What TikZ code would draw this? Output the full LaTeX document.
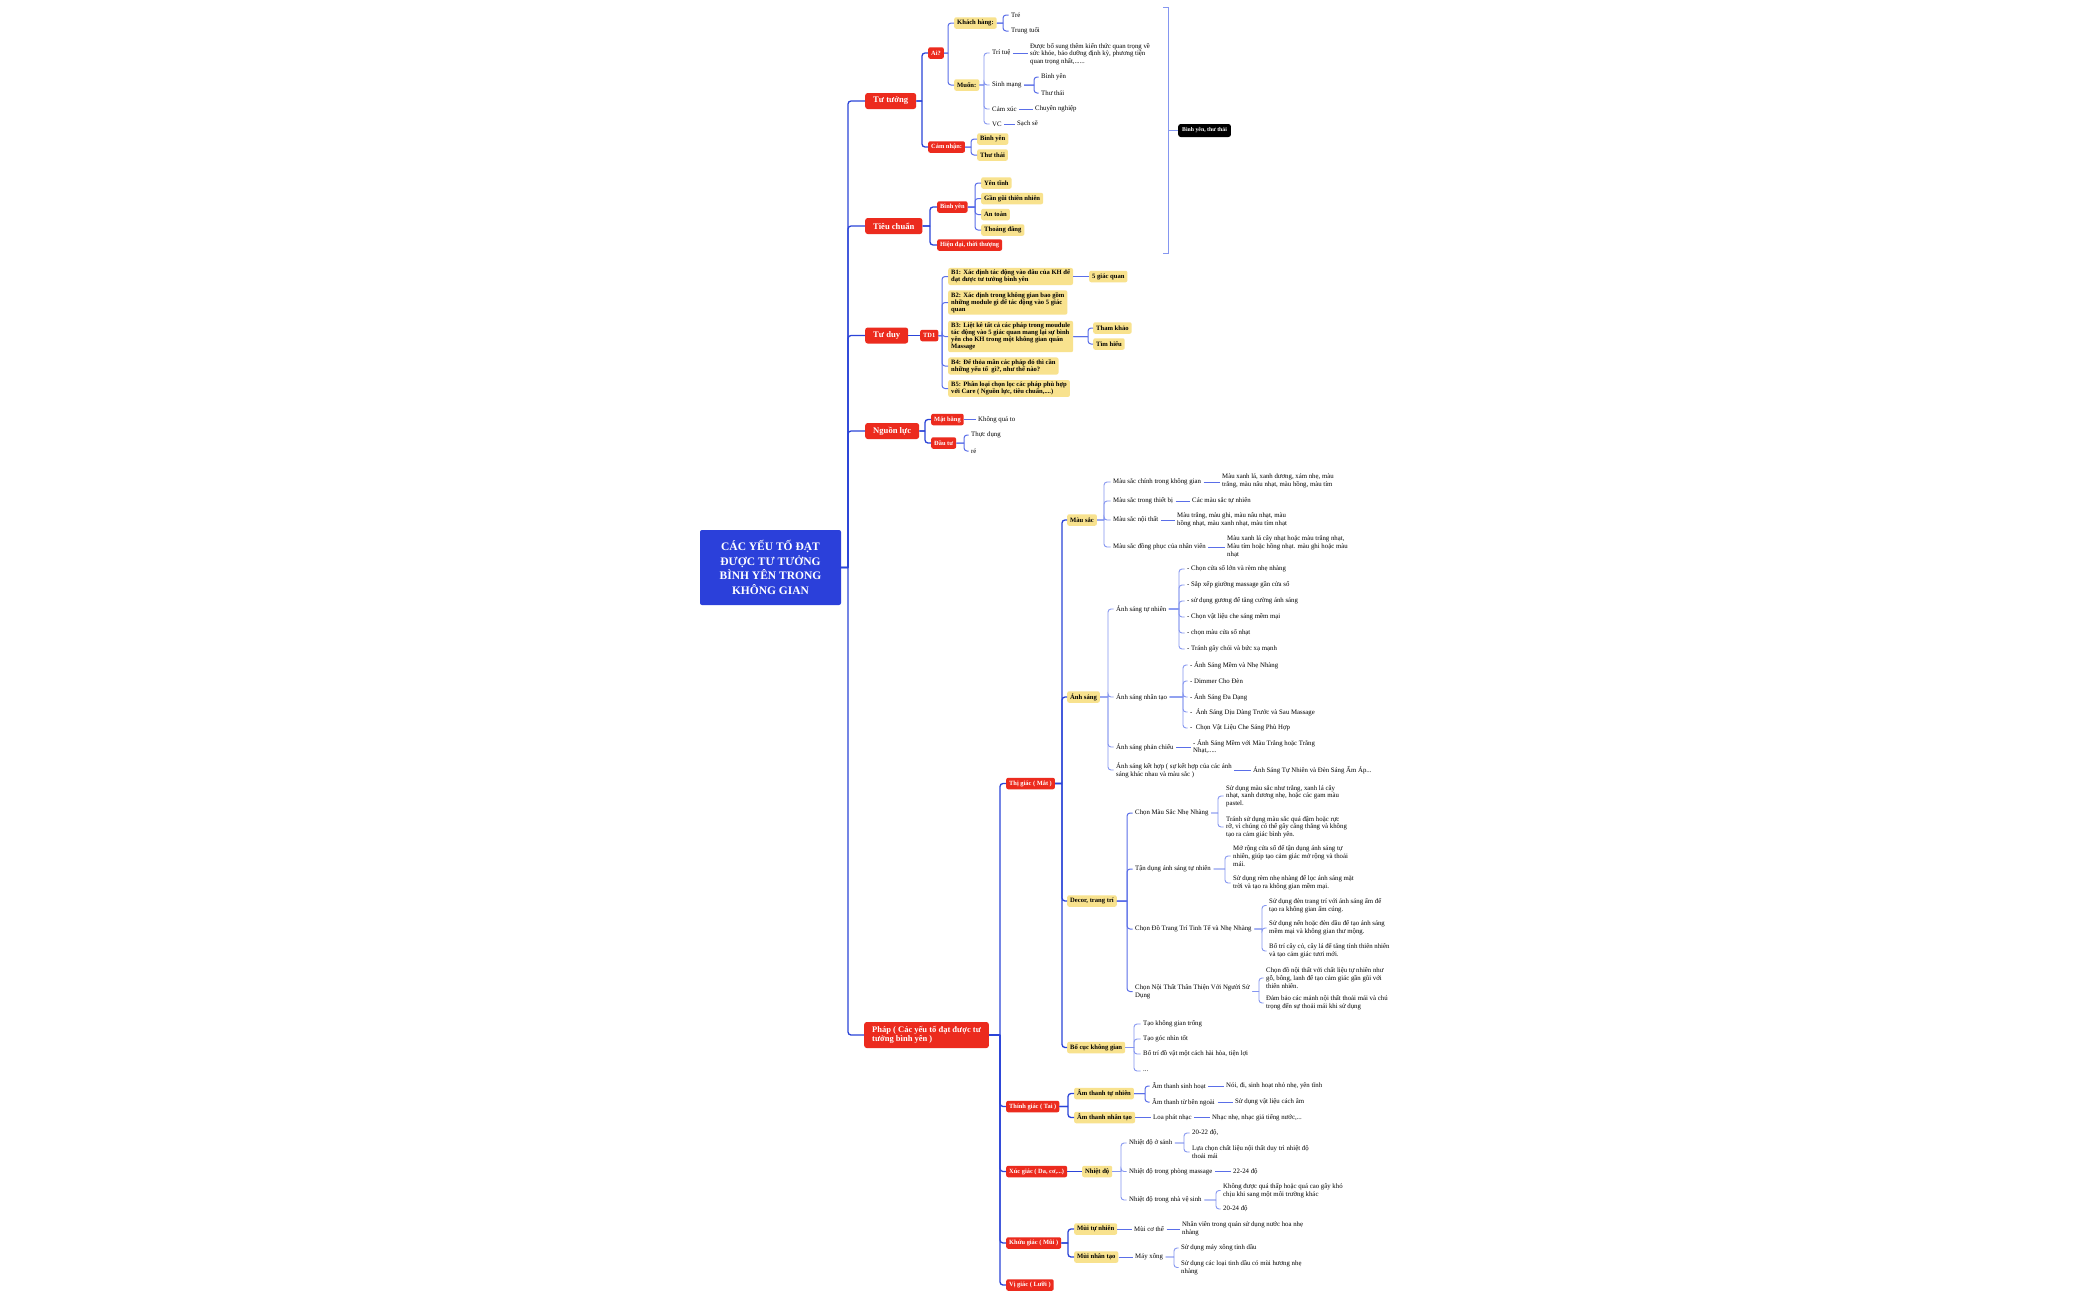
\documentclass[tikz,border=0pt]{standalone}
\usepackage{fontspec}
\setmainfont{Liberation Serif}
\usetikzlibrary{calc}
\definecolor{cred}{HTML}{EC2B1E}
\definecolor{cyel}{HTML}{F8E28E}
\definecolor{cblue}{HTML}{2B40DA}
\definecolor{lnA}{HTML}{2B44D8}
\definecolor{lnB}{HTML}{5A6EE8}
\definecolor{lnC}{HTML}{8596F0}
\begin{document}
\begin{tikzpicture}[x=1pt,y=-1pt,
 rootn/.style={fill=cblue,text=white,font=\fontsize{11.5}{14.5}\selectfont\bfseries,align=center,rounded corners=2pt,minimum width=141pt,minimum height=75pt,inner sep=2pt},
 mainn/.style={fill=cred,text=white,font=\fontsize{8.6}{10}\selectfont\bfseries,rounded corners=2.5pt,anchor=west,minimum height=16pt,inner xsep=8pt,inner ysep=2pt},
 redn/.style={fill=cred,text=white,font=\fontsize{6.4}{7.2}\selectfont\bfseries,rounded corners=2pt,anchor=west,minimum height=11.5pt,inner xsep=3pt,inner ysep=1.5pt},
 yel/.style={fill=cyel,text=black,font=\fontsize{6.6}{7.2}\selectfont\bfseries,rounded corners=2pt,anchor=west,minimum height=11.5pt,inner xsep=3pt,inner ysep=1.8pt,align=left},
 leaf/.style={font=\fontsize{6.8}{7.7}\selectfont,anchor=west,inner xsep=2.5pt,inner ysep=1pt,align=left,xshift=-2.5pt},
 blk/.style={fill=black,text=white,font=\fontsize{5.8}{7}\selectfont\bfseries,rounded corners=2.5pt,anchor=west,minimum height=13pt,inner xsep=4pt},
 l1/.style={draw=lnA,line width=1.3pt},
 l2/.style={draw=lnB,line width=1pt},
 l3/.style={draw=lnC,line width=0.9pt},
 jx/.style={to path={let \p1=(\tikztostart) in (\p1) -- (#1pt,\y1) (#1pt,\y1) [rounded corners=3pt] |- (\tikztotarget)}}
]
\fill[white] (0,0) rectangle (2100,1299);
\useasboundingbox (0,0) rectangle (2100,1299);

% root
\node[rootn] (root) at (770.5,567.5) {CÁC YẾU TỐ ĐẠT\\ĐƯỢC TƯ TƯỞNG\\BÌNH YÊN TRONG\\KHÔNG GIAN};

% main branches
\node[mainn] (tt) at (865,101) {Tư tưởng};
\node[mainn] (tc) at (865,226) {Tiêu chuẩn};
\node[mainn] (td) at (865,335.5) {Tư duy};
\node[mainn] (nl) at (865,431) {Nguồn lực};
\node[mainn,align=left,font=\fontsize{8.5}{9.5}\selectfont\bfseries,minimum height=26pt] (ph) at (864,1035) {Pháp ( Các yếu tố đạt được tư\\tưởng bình yên )};
\foreach \c in {tt,tc,td,nl,ph} \draw[l1] (root.east) to[jx=848] (\c.west);

% ---------- Tư tưởng
\node[redn] (ai) at (928,53) {Ai?};
\node[redn] (cn) at (928,147) {Cảm nhận:};
\foreach \c in {ai,cn} \draw[l1] (tt.east) to[jx=922] (\c.west);
\node[yel] (kh) at (954,23) {Khách hàng:};
\node[yel] (mu) at (954,85) {Muốn:};
\foreach \c in {kh,mu} \draw[l2] (ai.east) to[jx=948] (\c.west);
\node[leaf] (tre) at (1011,15) {Trẻ};
\node[leaf] (trt) at (1011,31) {Trung tuổi};
\foreach \c in {tre,trt} \draw[l2] (kh.east) to[jx=1003] (\c.west);
\node[leaf] (tri) at (992,53) {Trí tuệ};
\node[leaf] (sm) at (992,85) {Sinh mạng};
\node[leaf] (cx) at (992,109) {Cảm xúc};
\node[leaf] (vc) at (992,124) {VC};
\foreach \c in {tri,sm,cx,vc} \draw[l3] (mu.east) to[jx=984] (\c.west);
\node[leaf] (tri1) at (1030,54) {Được bổ sung thêm kiến thức quan trọng về\\sức khỏe, bảo dưỡng định kỳ, phương tiện\\quan trọng nhất,......};
\draw[l2] (tri.east) -- (tri.east -| tri1.west);
\node[leaf] (sm1) at (1041,77) {Bình yên};
\node[leaf] (sm2) at (1041,93) {Thư thái};
\foreach \c in {sm1,sm2} \draw[l2] (sm.east) to[jx=1034] (\c.west);
\node[leaf] (cx1) at (1035,109) {Chuyên nghiệp};
\draw[l2] (cx.east) -- (cx.east -| cx1.west);
\node[leaf] (vc1) at (1017,124) {Sạch sẽ};
\draw[l2] (vc.east) -- (vc.east -| vc1.west);
\node[yel] (cn1) at (977,139) {Bình yên};
\node[yel] (cn2) at (977,155) {Thư thái};
\foreach \c in {cn1,cn2} \draw[l2] (cn.east) to[jx=971] (\c.west);

% ---------- Tiêu chuẩn
\node[redn] (tby) at (937,207) {Bình yên};
\node[redn] (thd) at (937,245) {Hiện đại, thời thượng};
\foreach \c in {tby,thd} \draw[l1] (tc.east) to[jx=930] (\c.west);
\node[yel] (ty1) at (981,183) {Yên tĩnh};
\node[yel] (ty2) at (981,198.5) {Gần gũi thiên nhiên};
\node[yel] (ty3) at (981,214.5) {An toàn};
\node[yel] (ty4) at (981,230) {Thoáng đãng};
\foreach \c in {ty1,ty2,ty3,ty4} \draw[l2] (tby.east) to[jx=975] (\c.west);

% summary bracket
\node[blk] (sum) at (1178,130.5) {Bình yên, thư thái};
\draw[l3] (1163,7) -- (1168,7) -- (1168,253) -- (1163,253);
\draw[l3] (1168,130.5) -- (sum.west);

% ---------- Tư duy
\node[redn] (td1) at (920,335.5) {TD1};
\draw[l1] (td.east) -- (td.east -| td1.west);
\node[yel] (b1) at (948,276.5) {B1: Xác định tác động vào đâu của KH để\\đạt được tư tưởng bình yên};
\node[yel] (b2) at (948,302.5) {B2: Xác định trong không gian bao gồm\\những module gì để tác động vào 5 giác\\quan};
\node[yel] (b3) at (948,336.5) {B3: Liệt kê tất cả các pháp trong moudule\\tác động vào 5 giác quan mang lại sự bình\\yên cho KH trong một không gian quán\\Massage};
\node[yel] (b4) at (948,366) {B4: Để thỏa mãn các pháp đó thì cần\\những yếu tố \ gì?, như thế nào?};
\node[yel] (b5) at (948,388.5) {B5: Phân loại chọn lọc các pháp phù hợp\\với Care ( Nguồn lực, tiêu chuẩn,....)};
\foreach \c in {b1,b2,b3,b4,b5} \draw[l2] (td1.east) to[jx=942] (\c.west);
\node[yel] (b1a) at (1089,276.5) {5 giác quan};
\draw[l2] (b1.east) -- (b1.east -| b1a.west);
\node[yel] (b3a) at (1093,328) {Tham khảo};
\node[yel] (b3b) at (1093,344) {Tìm hiểu};
\foreach \c in {b3a,b3b} \draw[l2] (b3.east) to[jx=1088] (\c.west);

% ---------- Nguồn lực
\node[redn] (mb) at (931,419.5) {Mặt bằng};
\node[redn] (dt) at (931,443) {Đầu tư};
\foreach \c in {mb,dt} \draw[l1] (nl.east) to[jx=925] (\c.west);
\node[leaf] (mb1) at (978,419.5) {Không quá to};
\draw[l2] (mb.east) -- (mb.east -| mb1.west);
\node[leaf] (dt1) at (971,435) {Thực dụng};
\node[leaf] (dt2) at (971,451) {rẻ};
\foreach \c in {dt1,dt2} \draw[l2] (dt.east) to[jx=964] (\c.west);

% ---------- Pháp
\node[redn] (tg) at (1006,783.5) {Thị giác ( Mắt )};
\node[redn] (thg) at (1006,1106.5) {Thính giác ( Tai )};
\node[redn] (xg) at (1006,1171.5) {Xúc giác ( Da, cơ,...)};
\node[redn] (kg) at (1006,1243) {Khứu giác ( Mũi )};
\node[redn] (vg) at (1006,1285) {Vị giác ( Lưỡi )};
\foreach \c in {tg,thg,xg,kg,vg} \draw[l1] (ph.east) to[jx=1000] (\c.west);

% Thị giác
\node[yel] (ms) at (1067,520) {Màu sắc};
\node[yel] (as) at (1067,697) {Ánh sáng};
\node[yel] (dc) at (1067,901) {Decor, trang trí};
\node[yel] (bc) at (1067,1047.5) {Bố cục không gian};
\foreach \c in {ms,as,dc,bc} \draw[l1] (tg.east) to[jx=1062] (\c.west);

% Màu sắc
\node[leaf] (ms1) at (1113,482) {Màu sắc chính trong không gian};
\node[leaf] (ms2) at (1113,501) {Màu sắc trong thiết bị};
\node[leaf] (ms3) at (1113,520) {Màu sắc nội thất};
\node[leaf] (ms4) at (1113,547) {Màu sắc đồng phục của nhân viên};
\foreach \c in {ms1,ms2,ms3,ms4} \draw[l3] (ms.east) to[jx=1104] (\c.west);
\node[leaf] (ms1a) at (1222,481) {Màu xanh lá, xanh dương, xám nhẹ, màu\\trắng, màu nâu nhạt, màu hồng, màu tím};
\node[leaf] (ms2a) at (1192,501) {Các màu sắc tự nhiên};
\node[leaf] (ms3a) at (1177,519.5) {Màu trắng, màu ghi, màu nâu nhạt, màu\\hồng nhạt, màu xanh nhạt, màu tím nhạt};
\node[leaf] (ms4a) at (1227,546.5) {Màu xanh lá cây nhạt hoặc màu trắng nhạt,\\Màu tím hoặc hồng nhạt. màu ghi hoặc màu\\nhạt};
\draw[l2] (ms1.east) -- (ms1.east -| ms1a.west);
\draw[l2] (ms2.east) -- (ms2.east -| ms2a.west);
\draw[l2] (ms3.east) -- (ms3.east -| ms3a.west);
\draw[l2] (ms4.east) -- (ms4.east -| ms4a.west);

% Ánh sáng
\node[leaf] (as1) at (1116,609) {Ánh sáng tự nhiên};
\node[leaf] (as2) at (1116,697) {Ánh sáng nhân tạo};
\node[leaf] (as3) at (1116,747) {Ánh sáng phản chiếu};
\node[leaf] (as4) at (1116,770) {Ánh sáng kết hợp ( sự kết hợp của các ánh\\sáng khác nhau và màu sắc )};
\foreach \c in {as1,as2,as3,as4} \draw[l3] (as.east) to[jx=1108] (\c.west);
\node[leaf] (n1) at (1187,569) {- Chọn cửa sổ lớn và rèm nhẹ nhàng};
\node[leaf] (n2) at (1187,585) {- Sắp xếp giường massage gần cửa sổ};
\node[leaf] (n3) at (1187,601) {- sử dụng gương để tăng cường ánh sáng};
\node[leaf] (n4) at (1187,617) {- Chọn vật liệu che sáng mềm mại};
\node[leaf] (n5) at (1187,633) {- chọn màu cửa sổ nhạt};
\node[leaf] (n6) at (1187,649) {- Tránh gây chói và bức xạ mạnh};
\foreach \c in {n1,n2,n3,n4,n5,n6} \draw[l3] (as1.east) to[jx=1179] (\c.west);
\node[leaf] (t1) at (1190,665) {- Ánh Sáng Mềm và Nhẹ Nhàng};
\node[leaf] (t2) at (1190,681) {- Dimmer Cho Đèn};
\node[leaf] (t3) at (1190,697) {- Ánh Sáng Đa Dạng};
\node[leaf] (t4) at (1190,712) {-\ \ Ánh Sáng Dịu Dàng Trước và Sau Massage};
\node[leaf] (t5) at (1190,728) {-\ \ Chọn Vật Liệu Che Sáng Phù Hợp};
\foreach \c in {t1,t2,t3,t4,t5} \draw[l3] (as2.east) to[jx=1183] (\c.west);
\node[leaf] (as3a) at (1193,746.5) {- Ánh Sáng Mềm với Màu Trắng hoặc Trắng\\Nhạt,.....};
\draw[l2] (as3.east) -- (as3.east -| as3a.west);
\node[leaf] (as4a) at (1253,770) {Ánh Sáng Tự Nhiên và Đèn Sáng Ấm Áp...};
\draw[l2] (as4.east) -- (as4.east -| as4a.west);

% Decor
\node[leaf] (d1) at (1135,813) {Chọn Màu Sắc Nhẹ Nhàng};
\node[leaf] (d2) at (1135,869) {Tận dụng ánh sáng tự nhiên};
\node[leaf] (d3) at (1135,929) {Chọn Đồ Trang Trí Tinh Tế và Nhẹ Nhàng};
\node[leaf] (d4) at (1135,991.5) {Chọn Nội Thất Thân Thiện Với Người Sử\\Dụng};
\foreach \c in {d1,d2,d3,d4} \draw[l2] (dc.east) to[jx=1127] (\c.west);
\node[leaf] (d1a) at (1226,796) {Sử dụng màu sắc như trắng, xanh lá cây\\nhạt, xanh dương nhẹ, hoặc các gam màu\\pastel.};
\node[leaf] (d1b) at (1226,827) {Tránh sử dụng màu sắc quá đậm hoặc rực\\rỡ, vì chúng có thể gây căng thẳng và không\\tạo ra cảm giác bình yên.};
\foreach \c in {d1a,d1b} \draw[l3] (d1.east) to[jx=1218] (\c.west);
\node[leaf] (d2a) at (1233,856) {Mở rộng cửa sổ để tận dụng ánh sáng tự\\nhiên, giúp tạo cảm giác mở rộng và thoải\\mái.};
\node[leaf] (d2b) at (1233,883) {Sử dụng rèm nhẹ nhàng để lọc ánh sáng mặt\\trời và tạo ra không gian mềm mại.};
\foreach \c in {d2a,d2b} \draw[l3] (d2.east) to[jx=1225] (\c.west);
\node[leaf] (d3a) at (1269,905.5) {Sử dụng đèn trang trí với ánh sáng ấm để\\tạo ra không gian ấm cúng.};
\node[leaf] (d3b) at (1269,928) {Sử dụng nến hoặc đèn dầu để tạo ánh sáng\\mềm mại và không gian thư mộng.};
\node[leaf] (d3c) at (1269,951) {Bố trí cây cỏ, cây lá để tăng tính thiên nhiên\\và tạo cảm giác tươi mới.};
\foreach \c in {d3a,d3b,d3c} \draw[l3] (d3.east) to[jx=1262] (\c.west);
\node[leaf] (d4a) at (1266,978) {Chọn đồ nội thất với chất liệu tự nhiên như\\gỗ, bông, lanh để tạo cảm giác gần gũi với\\thiên nhiên.};
\node[leaf] (d4b) at (1266,1003) {Đảm bảo các mảnh nội thất thoải mái và chú\\trọng đến sự thoải mái khi sử dụng};
\foreach \c in {d4a,d4b} \draw[l3] (d4.east) to[jx=1259] (\c.west);

% Bố cục không gian
\node[leaf] (bc1) at (1143,1024) {Tạo không gian trống};
\node[leaf] (bc2) at (1143,1039) {Tạo góc nhìn tốt};
\node[leaf] (bc3) at (1143,1054) {Bố trí đồ vật một cách hài hòa, tiện lợi};
\node[leaf] (bc4) at (1143,1071) {...};
\foreach \c in {bc1,bc2,bc3,bc4} \draw[l3] (bc.east) to[jx=1134] (\c.west);

% Thính giác
\node[yel] (at1) at (1074,1093.5) {Âm thanh tự nhiên};
\node[yel] (at2) at (1074,1117.5) {Âm thanh nhân tạo};
\foreach \c in {at1,at2} \draw[l1] (thg.east) to[jx=1068] (\c.west);
\node[leaf] (at1a) at (1152,1086) {Âm thanh sinh hoạt};
\node[leaf] (at1b) at (1152,1102) {Âm thanh từ bên ngoài};
\foreach \c in {at1a,at1b} \draw[l2] (at1.east) to[jx=1145] (\c.west);
\node[leaf] (at1a1) at (1226,1086) {Nói, đi, sinh hoạt nhỏ nhẹ, yên tĩnh};
\draw[l2] (at1a.east) -- (at1a.east -| at1a1.west);
\node[leaf] (at1b1) at (1235,1102) {Sử dụng vật liệu cách âm};
\draw[l2] (at1b.east) -- (at1b.east -| at1b1.west);
\node[leaf] (at2a) at (1153,1117.5) {Loa phát nhạc};
\draw[l2] (at2.east) -- (at2.east -| at2a.west);
\node[leaf] (at2b) at (1212,1117.5) {Nhạc nhẹ, nhạc giả tiếng nước,...};
\draw[l2] (at2a.east) -- (at2a.east -| at2b.west);

% Xúc giác
\node[yel] (nd) at (1082,1171.5) {Nhiệt độ};
\draw[l1] (xg.east) -- (xg.east -| nd.west);
\node[leaf] (nd1) at (1129,1143) {Nhiệt độ ở sảnh};
\node[leaf] (nd2) at (1129,1171.5) {Nhiệt độ trong phòng massage};
\node[leaf] (nd3) at (1129,1200) {Nhiệt độ trong nhà vệ sinh};
\foreach \c in {nd1,nd2,nd3} \draw[l3] (nd.east) to[jx=1121] (\c.west);
\node[leaf] (nd1a) at (1192,1133) {20-22 độ,};
\node[leaf] (nd1b) at (1192,1152) {Lựa chọn chất liệu nội thất duy trì nhiệt độ\\thoải mái};
\foreach \c in {nd1a,nd1b} \draw[l3] (nd1.east) to[jx=1184] (\c.west);
\node[leaf] (nd2a) at (1233,1171.5) {22-24 độ};
\draw[l2] (nd2.east) -- (nd2.east -| nd2a.west);
\node[leaf] (nd3a) at (1223,1190.5) {Không được quá thấp hoặc quá cao gây khó\\chịu khi sang một môi trường khác};
\node[leaf] (nd3b) at (1223,1209) {20-24 độ};
\foreach \c in {nd3a,nd3b} \draw[l3] (nd3.east) to[jx=1216] (\c.west);

% Khứu giác
\node[yel] (mt) at (1074,1229) {Mùi tự nhiên};
\node[yel] (mn) at (1074,1257) {Mùi nhân tạo};
\foreach \c in {mt,mn} \draw[l1] (kg.east) to[jx=1068] (\c.west);
\node[leaf] (mt1) at (1134,1229) {Mùi cơ thể};
\draw[l2] (mt.east) -- (mt.east -| mt1.west);
\node[leaf] (mt2) at (1182,1228.5) {Nhân viên trong quán sử dụng nước hoa nhẹ\\nhàng};
\draw[l2] (mt1.east) -- (mt1.east -| mt2.west);
\node[leaf] (mn1) at (1135,1257) {Máy xông};
\draw[l2] (mn.east) -- (mn.east -| mn1.west);
\node[leaf] (mn1a) at (1181,1248) {Sử dụng máy xông tinh dầu};
\node[leaf] (mn1b) at (1181,1267.5) {Sử dụng các loại tinh dầu có mùi hương nhẹ\\nhàng};
\foreach \c in {mn1a,mn1b} \draw[l3] (mn1.east) to[jx=1174] (\c.west);
\end{tikzpicture}
\end{document}
